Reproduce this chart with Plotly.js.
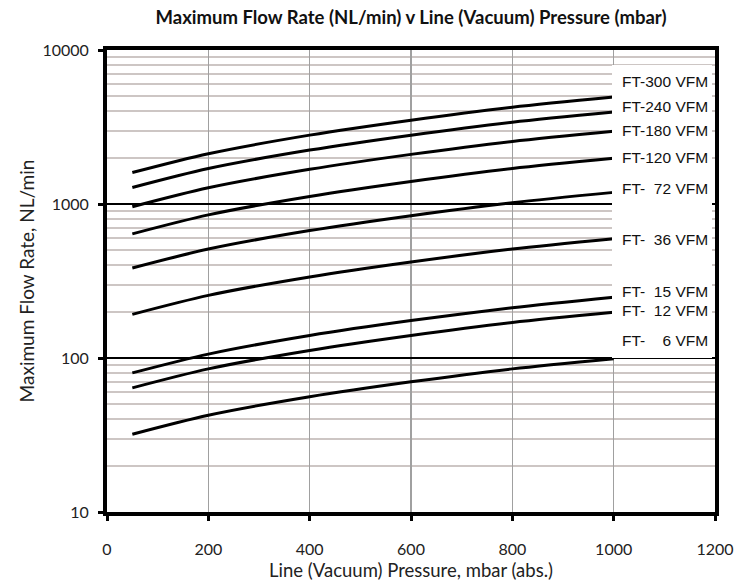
<!DOCTYPE html>
<html>
<head>
<meta charset="utf-8">
<script src="https://cdn.plot.ly/plotly-3.0.1.min.js"></script>
<style>html,body{margin:0;padding:0;background:#fff;}#chart{width:737px;height:585px;}</style>
</head>
<body>
<div id="chart"></div>
<script>
// Line pressure, mbar (abs.)
const pressure = [50, 200, 400, 600, 800, 1000];

// Maximum flow rate, NL/min
const ft300 = [1600, 2120, 2800, 3500, 4250, 4950];
const ft240 = [1280, 1700, 2240, 2800, 3400, 3960];
const ft180 = [960, 1275, 1680, 2100, 2550, 2970];
const ft120 = [640, 850, 1120, 1400, 1700, 1980];
const ft72  = [384, 510, 672, 840, 1020, 1190];
const ft36  = [192, 255, 336, 420, 510, 595];
const ft15  = [80, 106, 140, 175, 212, 248];
const ft12  = [64, 85, 112, 140, 170, 198];
const ft6   = [32, 42.5, 56, 70, 85, 99];

const seriesValues = [ft300, ft240, ft180, ft120, ft72, ft36, ft15, ft12, ft6];
const seriesLabels = ['FT-300 VFM', 'FT-240 VFM', 'FT-180 VFM', 'FT-120 VFM',
  'FT-\u00a0\u00a072 VFM', 'FT-\u00a0\u00a036 VFM', 'FT-\u00a0\u00a015 VFM',
  'FT-\u00a0\u00a012 VFM', 'FT-\u00a0\u00a0\u00a0\u00a06 VFM'];

const xTicks = [0, 200, 400, 600, 800, 1000, 1200];
const yTicks = [10, 100, 1000, 10000];

// label vertical positions (pixels from top of figure) for layout only
const labelPix = [81.5, 106, 130, 157, 188, 240, 291.5, 310, 340];
const plotTop = 50, plotBottom = 512, plotLeft = 107, plotRight = 715;
const ph = plotBottom - plotTop, pw = plotRight - plotLeft;

const traces = seriesValues.map((vals, i) => ({
  x: pressure, y: vals, type: 'scatter', mode: 'lines',
  name: seriesLabels[i],
  line: {color: '#000', width: 3, shape: 'spline', smoothing: 0.8},
  showlegend: false, hoverinfo: 'skip'
}));

const annotations = seriesLabels.map((t, i) => ({
  xref: 'paper', yref: 'paper',
  x: (620 - plotLeft) / pw, xanchor: 'left',
  y: (plotBottom - labelPix[i]) / ph, yanchor: 'middle',
  text: t, showarrow: false,
  font: {family: 'Liberation Sans, Arial, sans-serif', size: 15.5, color: '#111'}
}));

const layout = {
  width: 737, height: 585,
  margin: {l: plotLeft, r: 737 - plotRight, t: plotTop, b: 585 - plotBottom},
  paper_bgcolor: '#fff', plot_bgcolor: '#fff',
  font: {family: 'Lato, sans-serif', size: 16, color: '#222'},
  title: {
    text: '<b>Maximum Flow Rate (NL/min) v Line (Vacuum) Pressure (mbar)</b>',
    font: {family: 'Lato, sans-serif', size: 18.5, color: '#111'},
    x: 0.5, xref: 'paper', y: 1 - 18 / 585, yref: 'container', yanchor: 'middle'
  },
  xaxis: {
    range: [0, 1200], tickvals: xTicks, ticktext: xTicks.map(String),
    showgrid: true, gridcolor: '#a0a0a0', gridwidth: 1.5,
    zeroline: false,
    showline: true, linecolor: '#000', linewidth: 4, mirror: true,
    ticks: 'outside', ticklen: 5, tickwidth: 3, tickcolor: '#000',
    ticklabelstandoff: 15,
    tickfont: {family: 'Lato, sans-serif', size: 16, color: '#222'},
    title: {text: 'Line (Vacuum) Pressure, mbar (abs.)', standoff: 8,
      font: {family: 'Lato, sans-serif', size: 18.5, color: '#222'}}
  },
  yaxis: {
    type: 'log', range: [1, 4], tickvals: yTicks, ticktext: yTicks.map(String),
    showgrid: true, gridcolor: '#000', gridwidth: 2,
    zeroline: false,
    showline: true, linecolor: '#000', linewidth: 4, mirror: true,
    ticks: 'outside', ticklen: 5, tickwidth: 3, tickcolor: '#000',
    ticklabelstandoff: 6,
    tickfont: {family: 'Lato, sans-serif', size: 16, color: '#222'},
    minor: {dtick: 'D1', showgrid: true, gridcolor: '#cdc6c4', gridwidth: 2, ticks: ''},
    title: {text: 'Maximum Flow Rate, NL/min', standoff: 4,
      font: {family: 'Lato, sans-serif', size: 19, color: '#222'}}
  },
  shapes: [{
    type: 'rect', xref: 'paper', yref: 'paper',
    x0: (612 - plotLeft) / pw, x1: (712 - plotLeft) / pw,
    y0: (plotBottom - 358) / ph, y1: (plotBottom - 65) / ph,
    fillcolor: '#fff', line: {width: 0}, layer: 'above'
  }],
  annotations: annotations
};

Plotly.newPlot('chart', traces, layout, {displayModeBar: false, staticPlot: true});
</script>
</body>
</html>
